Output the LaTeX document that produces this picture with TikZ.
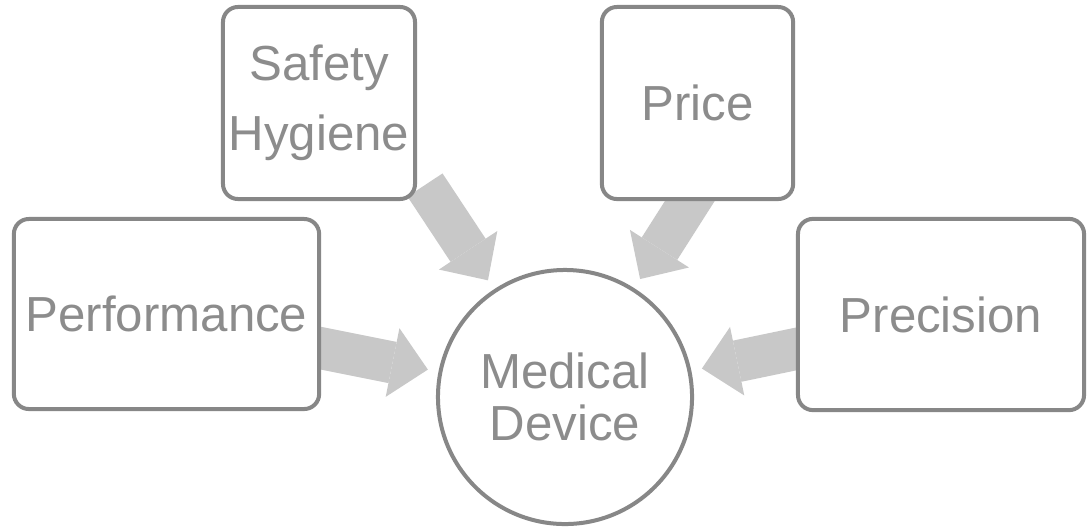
\documentclass[tikz,border=0pt]{standalone}
\usepackage{fontspec}
\setmainfont{Liberation Sans}
\usetikzlibrary{arrows.meta, backgrounds}
\definecolor{edgegray}{RGB}{135,135,135}
\definecolor{textgray}{RGB}{140,140,140}
\definecolor{arrowgray}{RGB}{200,200,200}
\tikzstyle{factor} = [draw=edgegray, line width=0.1cm, rounded corners=0.375cm, fill=white,
                      text=textgray, align=center, font=\fontsize{35}{37.5}\selectfont]
\tikzstyle{device} = [circle, draw=edgegray, line width=0.1cm, fill=white, text=textgray,
                      align=center, font=\fontsize{35}{37.5}\selectfont, minimum size=6.35cm]
\tikzstyle{push} = [draw=arrowgray, line width=1.05cm, shorten >=0.27cm,
                    -{Triangle[length=0.9cm, width=1.75cm, line width=0pt]}]

\begin{document}
\begin{tikzpicture}[x=0.025cm, y=-0.025cm]
				\useasboundingbox (0, 0) rectangle (1089, 528);

				% the device in the middle
				\node (Device) [device] at (565, 397) {Medical\\Device};

				% the four factors
				\node (Safety) [factor, minimum width=4.8cm, minimum height=4.8cm] at (319, 103) {Safety\\[0.43cm]Hygiene};
				\node (Price) [factor, minimum width=4.78cm, minimum height=4.8cm] at (697.5, 103) {Price};
				\node (Performance) [factor, minimum width=7.63cm, minimum height=4.75cm] at (166.5, 314) {Performance};
				\node (Precision) [factor, minimum width=7.15cm, minimum height=4.78cm] at (941, 314.5) {Precision};

				% arrows start under the boxes
				\begin{scope}[on background layer]
					\coordinate (SafetyFoot) at (425, 185);
					\draw [push] (SafetyFoot) -- (Device);

					\coordinate (PriceFoot) at (700, 185);
					\draw [push] (PriceFoot) -- (Device);

					\coordinate (PerformanceFoot) at (305, 345);
					\draw [push] (PerformanceFoot) -- (Device);

					\coordinate (PrecisionFoot) at (815, 345);
					\draw [push] (PrecisionFoot) -- (Device);
				\end{scope}
			\end{tikzpicture}
\end{document}
